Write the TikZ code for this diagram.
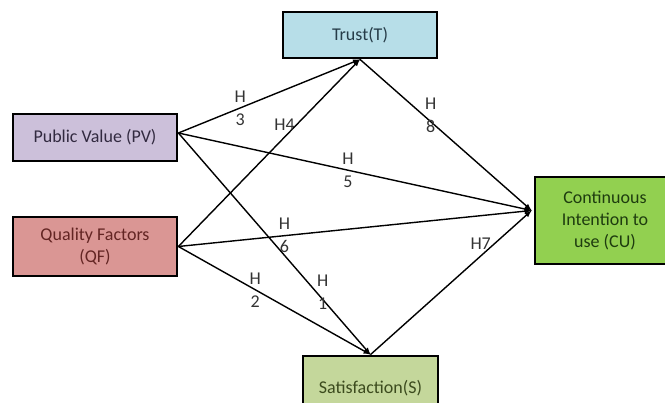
\documentclass[tikz,border=0pt]{standalone}
\usepackage{fontspec}
\setmainfont{Carlito}
\usetikzlibrary{arrows,calc}

\definecolor{trustfill}{RGB}{183,222,232}
\definecolor{pvfill}{RGB}{204,192,218}
\definecolor{qffill}{RGB}{218,150,148}
\definecolor{cufill}{RGB}{146,208,80}
\definecolor{satfill}{RGB}{196,215,155}
\definecolor{trusttext}{RGB}{38,60,72}
\definecolor{pvtext}{RGB}{50,42,64}
\definecolor{qftext}{RGB}{99,37,35}
\definecolor{cutext}{RGB}{30,60,15}
\definecolor{sattext}{RGB}{60,75,30}

\begin{document}
\begin{tikzpicture}[
  x=1pt,
  y=1pt,
]

  \tikzstyle{boxnode}=[draw,rectangle,line width=2.8pt,inner sep=1mm,align=center,font=\fontsize{18}{22}\selectfont]
  \tikzstyle{hyplab}=[align=center,inner sep=1pt,font=\fontsize{18}{23}\selectfont,text=black!80]
  \tikzstyle{pointer}=[draw,->,>=latex,line width=1.4pt]

  \useasboundingbox (0,0) rectangle (665,403);

  % nodes
  \node[boxnode,fill=trustfill,text=trusttext,minimum width=154pt,minimum height=46pt] (T) at (360,368) {Trust(T)};
  \node[boxnode,fill=pvfill,text=pvtext,minimum width=164pt,minimum height=47pt] (PV) at (95,265.5) {Public Value (PV)};
  \node[boxnode,fill=qffill,text=qftext,minimum width=164pt,minimum height=59pt] (QF) at (95,156.5) {Quality Factors\\(QF)};
  \node[boxnode,fill=cufill,text=cutext,minimum width=140pt,minimum height=87pt] (CU) at (605,182.5) {Continuous\\Intention to\\use (CU)};
  \node[boxnode,fill=satfill,text=sattext,minimum width=135pt,minimum height=64pt] (S) at (370.5,15) {Satisfaction(S)};

  \coordinate (pvout) at ([yshift=4.5pt]PV.east);
  \coordinate (cuin) at ([shift={(-2pt,10pt)}]CU.west);

  % pointers
  \draw[pointer] (pvout)   -- node[hyplab,pos=0.34] {H\\3} (T.south);
  \draw[pointer] (QF.east) -- node[hyplab,pos=0.65,anchor=east] {H4} (T.south);
  \draw[pointer] (pvout)   -- node[hyplab,pos=0.48] {H\\5} (cuin);
  \draw[pointer] (QF.east) -- node[hyplab,pos=0.3] {H\\6} (cuin);
  \draw[pointer] (QF.east) -- node[hyplab,pos=0.4] {H\\2} (S.north);
  \draw[pointer] (pvout)   -- node[hyplab,pos=0.72,xshift=6pt] {H\\1} (S.north);

  \draw[pointer] (T.south) -- node[hyplab,pos=0.4,xshift=2pt,yshift=5pt] {H\\8} (cuin);
  \draw[pointer] (S.north) -- node[hyplab,pos=0.77,anchor=east,xshift=-2pt] {H7} (cuin);

\end{tikzpicture}
\end{document}
